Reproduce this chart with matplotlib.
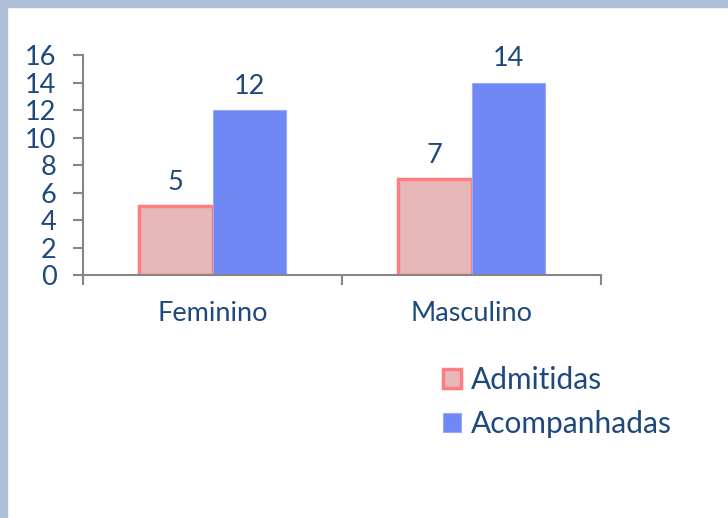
import matplotlib
matplotlib.use("Agg")
import matplotlib.pyplot as plt
from matplotlib.patches import Rectangle, Patch
import numpy as np

categories = ["Feminino", "Masculino"]
series_names = ["Admitidas", "Acompanhadas"]
admitidas = [5, 7]
acompanhadas = [12, 14]
yticks = [0, 2, 4, 6, 8, 10, 12, 14, 16]

W, H = 728, 518
plt.rcParams['font.family'] = ['Lato', 'DejaVu Sans']
txt = '#1f497d'
gray = '#868686'

fig = plt.figure(figsize=(W / 100, H / 100), dpi=100)
fig.patch.set_facecolor('white')
# border strips
fig.patches.append(Rectangle((0, 0), 7 / W, 1, transform=fig.transFigure, color='#adc0d8', zorder=0))
fig.patches.append(Rectangle((0, 1 - 7 / H), 1, 7 / H, transform=fig.transFigure, color='#adc0d8', zorder=0))

ax = fig.add_axes([83 / W, 1 - 275 / H, (601 - 83) / W, (275 - 55) / H])
x = np.arange(len(categories))
bw = 0.285
b1 = ax.bar(x - bw / 2, admitidas, bw, color='#e6b9b8', edgecolor='#ff7c80', linewidth=2.5, label=series_names[0], zorder=2)
b2 = ax.bar(x + bw / 2, acompanhadas, bw, color='#6f88f6', edgecolor='#9aaaf8', linewidth=0.8, label=series_names[1], zorder=2)
for b in (b1, b2):
    ax.bar_label(b, padding=8, fontsize=19.5, color=txt)

ax.set_xlim(-0.5, 1.5)
ax.set_ylim(0, 16)
ax.set_yticks(yticks)
ax.set_yticklabels([str(v) for v in yticks])
ax.set_xticks(x)
ax.set_xticklabels(categories)
ax.set_xticks([-0.5, 0.5, 1.5], minor=True)
ax.tick_params(axis='x', which='major', length=0, pad=19, labelsize=19.5, labelcolor=txt)
ax.tick_params(axis='x', which='minor', length=7, width=1.5, color=gray, direction='out')
ax.tick_params(axis='y', length=7, width=1.5, color=gray, labelsize=19.5, labelcolor=txt, pad=12)
for s in ('top', 'right'):
    ax.spines[s].set_visible(False)
for s in ('left', 'bottom'):
    ax.spines[s].set_color(gray)
    ax.spines[s].set_linewidth(1.5)

handles = [Patch(facecolor='#e6b9b8', edgecolor='#ff7c80', linewidth=2.5),
           Patch(facecolor='#6f88f6', edgecolor='#9aaaf8', linewidth=0.8)]
leg = fig.legend(handles, series_names, loc='upper left', bbox_to_anchor=(443 / W, 1 - 366 / H),
                 frameon=False, fontsize=21.5, handlelength=0.6, handleheight=0.6,
                 handletextpad=0.35, labelspacing=0.55, borderpad=0, borderaxespad=0)
for t in leg.get_texts():
    t.set_color(txt)

fig.savefig('out.png', dpi=100, facecolor='white')
